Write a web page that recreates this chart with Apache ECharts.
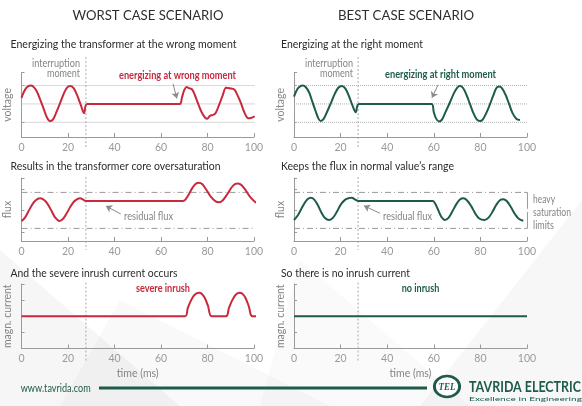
<!DOCTYPE html>
<html><head><meta charset="utf-8">
<script src="https://cdn.jsdelivr.net/npm/echarts@6/dist/echarts.min.js"></script>
<style>html,body{margin:0;padding:0;background:#fff}#c{width:582px;height:406px}</style>
</head><body><div id="c"></div>
<script>
// ---------- data ----------
const timeTicks = [0, 20, 40, 60, 80, 100];
const interruptionWorst = 27.7;
const interruptionBest = 27.5;
const voltageLevels = [1, 0, -1];
const saturationLimits = [1, -1];

const voltageWorst = [[0,0.33],[1,0.65],[2,0.86],[3,0.97],[3.8,1.0],[5,0.95],[6.5,0.7],[8,0.25],[9.5,-0.25],[11,-0.75],[12.2,-0.93],[13.5,-0.85],[15,-0.45],[16.6,0.05],[18,0.5],[19.5,0.88],[21,0.98],[22.5,0.85],[24,0.45],[25.5,-0.05],[26.9,-0.5],[28.3,0],[68,0],[69,0.35],[70,0.75],[71,0.92],[72,0.86],[73.3,0.8],[74.5,0.5],[76,0],[77.5,-0.45],[79,-0.75],[80,-0.8],[81,-0.65],[82.5,-0.6],[83.5,-0.5],[85,-0.05],[86.5,0.45],[88,0.88],[89.5,0.85],[91.5,0.78],[93,0.45],[94.5,0],[96,-0.5],[97.5,-0.78],[99,-0.75],[100.3,-0.68]];
const voltageBest = [[0,0.4],[1,0.7],[2,0.9],[3.7,1.0],[5,0.92],[6.5,0.62],[7.8,0.15],[9.3,-0.4],[10.5,-0.8],[11.5,-0.93],[12.8,-0.8],[14.3,-0.4],[16,0.1],[17.5,0.55],[19,0.88],[20.5,0.98],[22,0.85],[23.5,0.45],[25,-0.05],[26.5,-0.45],[27.9,0],[59,0],[60,-0.45],[61,-0.8],[62.2,-0.95],[63.5,-0.85],[65,-0.45],[66.8,0.05],[68.5,0.55],[70,0.88],[71.2,0.98],[72.5,0.88],[74,0.5],[75.5,0],[77,-0.5],[78.5,-0.85],[79.8,-0.93],[81,-0.85],[82.5,-0.5],[84,-0.05],[85.5,0.45],[86.8,0.85],[88,0.95],[89.3,0.85],[90.8,0.5],[92.3,0],[93.8,-0.5],[95.5,-0.82],[97,-0.88]];
const fluxWorst = [[0,-0.59],[1.5,-0.4],[3,-0.05],[4.5,0.3],[6,0.55],[8,0.67],[10,0.55],[11.5,0.3],[13,-0.05],[14.5,-0.4],[16.3,-0.59],[18,-0.45],[19.5,-0.15],[21,0.2],[22.5,0.48],[24,0.63],[25.2,0.67],[26.5,0.6],[27.7,0.52],[69.4,0.52],[70.5,0.6],[72,0.9],[73.5,1.25],[75,1.48],[76.3,1.54],[77.8,1.45],[79.5,1.15],[81.5,0.75],[83.5,0.5],[85,0.45],[86.5,0.55],[88.5,0.9],[90.5,1.3],[92,1.47],[93.2,1.5],[94.7,1.4],[96.5,1.1],[98.5,0.72],[100.5,0.47],[101.8,0.39]];
const fluxBest = [[0,-0.53],[1.5,-0.3],[3,0.05],[4.5,0.4],[5.8,0.62],[7.2,0.7],[8.7,0.6],[10.2,0.3],[11.7,-0.1],[13.3,-0.42],[15.1,-0.53],[16.8,-0.4],[18.5,-0.05],[20.2,0.35],[22,0.6],[23.5,0.68],[24.8,0.7],[26.3,0.6],[27.6,0.52],[59.5,0.52],[60.5,0.4],[61.8,0.05],[63.2,-0.35],[64.8,-0.53],[66.4,-0.4],[68,-0.05],[69.7,0.35],[71.2,0.6],[72.7,0.67],[74.3,0.55],[76,0.25],[77.7,-0.15],[79.5,-0.45],[81.7,-0.53],[83.5,-0.4],[85.3,-0.05],[87,0.35],[88.5,0.58],[89.8,0.62],[91.3,0.52],[93,0.2],[94.8,-0.2],[96.6,-0.48],[98.4,-0.57]];
const currentWorst = [[0,0],[70.3,0],[71.5,0.5],[72.8,0.95],[74.2,1.3],[75.5,1.44],[76.4,1.46],[77.5,1.4],[78.8,1.15],[80.2,0.65],[81.8,0],[88,0],[89.2,0.5],[90.5,0.95],[91.9,1.3],[93,1.44],[93.8,1.46],[95,1.4],[96.3,1.15],[97.8,0.6],[99.3,0],[105,0]];
const currentBest = [[0,0],[100,0]];

// ---------- styling ----------
const RED = '#c8293b', GREEN = '#1d5c4c', GREY = '#9a9a9a', TXT = '#2b2b2b', NOTE = '#858585';
const FONT = 'Lato, "Noto Sans", sans-serif';

const colLeft = [21.5, 294];
const rows = [
  {top: 72.7, height: 64.3, min: -1.8, max: 1.7, ticks: [1.7, 1, -1], name: 'voltage'},
  {top: 178, height: 63, min: -1.7, max: 1.8, ticks: [1.8, 1.2, 0, -1.2], name: 'flux'},
  {top: 284, height: 64.5, min: -2, max: 2, ticks: [2, 1, -1], name: 'magn. current'}
];
const grid = [], xAxis = [], yAxis = [];
rows.forEach((r, ri) => {
  colLeft.forEach((l, ci) => {
    grid.push({left: l, top: r.top, width: ci === 0 ? 232.5 : 233, height: r.height});
    const gi = grid.length - 1;
    xAxis.push({type: 'value', gridIndex: gi, min: 0, max: 100, interval: 20,
      axisLine: {onZero: false, lineStyle: {color: GREY, width: 1}},
      axisTick: {inside: true, length: 4, lineStyle: {color: GREY}},
      axisLabel: {color: '#9a9a9a', fontSize: 10.5, fontFamily: FONT, margin: 5, customValues: timeTicks},
      splitLine: {show: false},
      name: ri === 2 ? 'time (ms)' : '', nameLocation: 'middle', nameGap: 20,
      nameTextStyle: {color: NOTE, fontSize: 10.5, fontFamily: FONT}});
    yAxis.push({type: 'value', gridIndex: gi, min: r.min, max: r.max,
      axisLine: {show: true, onZero: false, lineStyle: {color: GREY, width: 1}},
      axisTick: {show: true, inside: true, length: 3, customValues: r.ticks, lineStyle: {color: GREY}},
      axisLabel: {show: false}, splitLine: {show: false},
      name: r.name, nameLocation: 'middle', nameGap: 8,
      nameTextStyle: {color: NOTE, fontSize: 10.5, fontFamily: FONT}});
  });
});

function curve(data, gi, color) {
  return {type: 'line', xAxisIndex: gi, yAxisIndex: gi, data: data, symbol: 'none',
    smooth: 0.35, clip: false, silent: true, z: 5, lineStyle: {color: color, width: 2}};
}
function deco(data, gi, type, color, width) {
  return {type: 'line', xAxisIndex: gi, yAxisIndex: gi, data: data, symbol: 'none',
    clip: false, silent: true, z: 3, lineStyle: {color: color, width: width || 1, type: type}};
}
function arrow(from, to) {
  return {silent: true, symbol: ['none', 'arrow'], symbolSize: 6, label: {show: false},
    lineStyle: {color: '#8a8a8a', width: 1, type: 'solid'},
    data: [[{coord: from}, {coord: to}]]};
}

const series = [];
voltageLevels.forEach(v => {
  series.push(deco([[0, v], [102.6, v]], 0, 'dotted', '#b0b0b0'));
  series.push(deco([[0, v], [102, v]], 1, 'dotted', '#b0b0b0'));
});
saturationLimits.forEach(v => {
  series.push(deco([[0, v], [104.2, v]], 2, [6, 3, 1, 3], '#9a9a9a'));
  series.push(deco([[0, v], [98.8, v]], 3, [6, 3, 1, 3], '#9a9a9a'));
});
series.push(deco([[104.2, 1], [105.6, 1], [105.6, 0.1], [106.6, 0], [105.6, -0.1], [105.6, -1], [104.2, -1]], 2, 'solid', '#9a9a9a'));
series.push(deco([[98.8, 1], [100.2, 1], [100.2, 0.1], [101.2, 0], [100.2, -0.1], [100.2, -1], [98.8, -1]], 3, 'solid', '#9a9a9a'));
const vspan = [[2.55, -2.39], [1.86, -2.2], [2.09, -2.75]];
vspan.forEach((s, ri) => {
  series.push(deco([[interruptionWorst, s[0]], [interruptionWorst, s[1]]], ri * 2, [2, 2], '#a8a8a8'));
  series.push(deco([[interruptionBest, s[0]], [interruptionBest, s[1]]], ri * 2 + 1, [2, 2], '#a8a8a8'));
});
const vW = curve(voltageWorst, 0, RED); vW.markLine = arrow([65.2, 1.09], [66.8, 0.3]);
const vB = curve(voltageBest, 1, GREEN); vB.markLine = arrow([61.8, 1.03], [59.2, 0.33]);
const fW = curve(fluxWorst, 2, RED); fW.markLine = arrow([42.7, -0.2], [36.3, 0.24]);
const fB = curve(fluxBest, 3, GREEN); fB.markLine = arrow([36.9, -0.16], [30, 0.26]);
series.push(vW, vB, fW, fB, curve(currentWorst, 4, RED), curve(currentBest, 5, GREEN));

// text fitted to the widths seen in the reference
const mctx = document.createElement('canvas').getContext('2d');
function txt(x, y, text, width, o) {
  o = o || {};
  const font = (o.weight || 'normal') + ' ' + (o.size || 11.5) + 'px ' + (o.family || FONT);
  mctx.font = font;
  const w = mctx.measureText(text).width;
  const sx = width ? width / w : 1;
  return {type: 'text', x: x, y: y, scaleX: sx, silent: true, z: 10, style: {text: text,
    fill: o.color || TXT, font: font, textAlign: o.align || 'left', textVerticalAlign: 'middle'}};
}
const note = {size: 10.5, color: NOTE};
const graphic = [
  {type: 'polygon', z: -10, silent: true, shape: {points: [[0, 250], [180, 406], [0, 406]]}, style: {fill: 'rgba(0,0,0,0.035)'}},
  {type: 'polygon', z: -10, silent: true, shape: {points: [[120, 300], [330, 406], [60, 406]]}, style: {fill: 'rgba(0,0,0,0.025)'}},
  {type: 'polygon', z: -10, silent: true, shape: {points: [[582, 200], [582, 406], [420, 406]]}, style: {fill: 'rgba(0,0,0,0.03)'}},
  {type: 'polygon', z: -10, silent: true, shape: {points: [[300, 260], [470, 406], [260, 406]]}, style: {fill: 'rgba(0,0,0,0.02)'}},
  txt(148, 16, 'WORST CASE SCENARIO', 151, {size: 12.5, align: 'center', color: '#2e2e2e'}),
  txt(406, 16, 'BEST CASE SCENARIO', 136, {size: 12.5, align: 'center', color: '#2e2e2e'}),
  txt(10.5, 44, 'Energizing the transformer at the wrong moment', 226),
  txt(281, 44, 'Energizing at the right moment', 142),
  txt(10.5, 166, 'Results in the transformer core oversaturation', 210),
  txt(281, 166, 'Keeps the flux in normal value\u2019s range', 173),
  txt(10.5, 273, 'And the severe inrush current occurs', 167),
  txt(281, 273, 'So there is no inrush current', 129),
  txt(80, 64, 'interruption', 48, Object.assign({align: 'right'}, note)),
  txt(80, 74, 'moment', 33, Object.assign({align: 'right'}, note)),
  txt(353, 64, 'interruption', 48, Object.assign({align: 'right'}, note)),
  txt(353, 74, 'moment', 33, Object.assign({align: 'right'}, note)),
  txt(177.5, 75, 'energizing at wrong moment', 117, {size: 11, weight: 'bold', color: RED, align: 'center'}),
  txt(440.5, 74, 'energizing at right moment', 111, {size: 11, weight: 'bold', color: GREEN, align: 'center'}),
  txt(124, 217, 'residual flux', 49, note),
  txt(383, 217, 'residual flux', 49, note),
  txt(533, 200, 'heavy', 22, note),
  txt(533, 213, 'saturation', 38, note),
  txt(533, 226, 'limits', 21, note),
  txt(163, 288, 'severe inrush', 54, {size: 11, weight: 'bold', color: RED, align: 'center'}),
  txt(420.5, 288, 'no inrush', 37.6, {size: 11, weight: 'bold', color: GREEN, align: 'center'}),
  txt(20.7, 388, 'www.tavrida.com', 70, {size: 11, color: GREEN}),
  {type: 'line', silent: true, shape: {x1: 99, y1: 388, x2: 427, y2: 388}, style: {stroke: GREEN, lineWidth: 3}},
  {type: 'circle', silent: true, x: 447, y: 386.5, scaleX: 1.2, scaleY: 1, shape: {cx: 0, cy: 0, r: 10.5}, style: {fill: '#ffffff', stroke: GREEN, lineWidth: 2.5}},
  txt(447, 387, 'TEL', 17, {size: 11, weight: 'bold italic', family: '"Liberation Serif", serif', color: GREEN, align: 'center'}),
  txt(525, 387, 'TAVRIDA ELECTRIC', 112, {size: 15, weight: 'bold', color: GREEN, align: 'center'}),
  txt(525.5, 399, 'Excellence in Engineering', 113, {size: 6, color: GREEN, align: 'center'})
];

const chart = echarts.init(document.getElementById('c'), null, {renderer: 'canvas'});
chart.setOption({animation: false, backgroundColor: '#ffffff', grid, xAxis, yAxis, series, graphic});
</script></body></html>
